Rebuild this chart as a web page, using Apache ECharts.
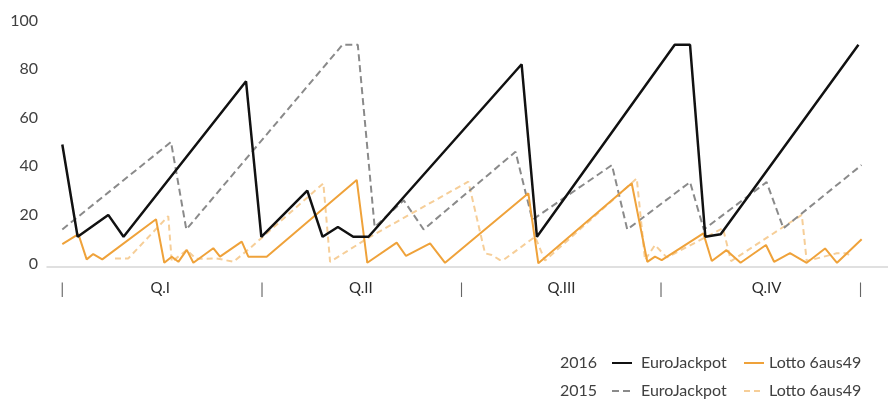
<!DOCTYPE html>
<html>
<head>
<meta charset="utf-8">
<script src="https://cdn.jsdelivr.net/npm/echarts@6/dist/echarts.min.js"></script>
<style>
  html, body { margin: 0; padding: 0; background: #ffffff; }
  #chart { width: 888px; height: 401px; }
</style>
</head>
<body>
<div id="chart"></div>
<script>
// x = week of the year (days / 7), y = jackpot value
const ej2016Weeks = [0, 1, 3, 4, 12, 13, 16, 17, 18, 19, 20, 30, 31, 40, 41, 42, 43, 52];
const ej2016Values = [49, 11, 20, 11, 75, 11, 30, 11, 15, 11, 11, 82, 11, 90, 90, 11, 12, 90];

const ej2015Weeks = [0, 7.1, 8.1, 18.3, 19.3, 20.4, 22.3, 23.6, 29.6, 30.7, 35.9, 36.9, 41, 41.9, 46, 47.1, 52.2];
const ej2015Values = [14, 50, 14, 90, 90, 15, 26, 14, 46, 18, 40.5, 14, 33.5, 14, 33.5, 14.5, 40.5];

const lotto2016Weeks = [0, 1.05, 1.59, 2.02, 2.61, 6.12, 6.66, 7.15, 7.58, 8.13, 8.56, 9.86, 10.30, 11.72, 12.15, 13.35, 19.23, 19.92, 21.84, 22.45, 24.02, 25.0, 30.44, 31.09, 37.19, 38.21, 38.71, 39.15, 41.87, 42.42, 43.38, 44.30, 45.96, 46.49, 47.53, 48.62, 49.82, 50.60, 52.21];
const lotto2016Values = [8, 12.1, 1.7, 3.9, 1.7, 18.2, 0.3, 2.8, 0.7, 5.6, 0.3, 6.3, 2.8, 9, 2.8, 2.8, 34.4, 0.3, 8.6, 3.1, 8.3, 0.3, 28.9, 0.1, 33, 0.7, 2.8, 1.4, 12.4, 1.0, 5.5, 0.3, 7.6, 0.7, 4.3, 0.3, 6.2, 0.3, 10];

const lotto2015Weeks = [3.44, 4.31, 6.92, 7.15, 8.13, 8.73, 10.08, 11.17, 12.26, 17.05, 17.49, 20.10, 26.52, 27.61, 28.05, 28.59, 28.80, 30.88, 31.53, 37.52, 38.06, 38.71, 39.48, 43.15, 43.68, 48.30, 48.62, 50.58, 51.23, 51.58];
const lotto2015Values = [2.1, 2.1, 19.5, 0.7, 5.6, 1.9, 2.1, 0.7, 6.3, 33, 0.7, 11, 33.7, 4.2, 3.5, 1.4, 1.4, 11, 1.2, 35, 1.4, 7.6, 2.5, 14.5, 1, 20, 1, 4.2, 4.2, 2.8];

const quarterBounds = [0, 13.04, 26.07, 39.11, 52.14];
const quarterLabelWeeks = [6.4, 19.5, 32.6, 46.0];
const quarterLabels = ['Q.I', 'Q.II', 'Q.III', 'Q.IV'];

const yearLabels = ['2016', '2015'];
const gameNames = ['EuroJackpot', 'Lotto 6aus49'];

function zip(xs, ys) { return xs.map((x, i) => [x, ys[i]]); }

const FONT = 'Lato, "Open Sans", sans-serif';

const chart = echarts.init(document.getElementById('chart'), null, { renderer: 'canvas' });

function legendFor(name, left, top, pad) {
  return {
    left: left, top: top, padding: 0,
    data: [name],
    itemWidth: 20, itemHeight: 12,
    selectedMode: false,
    itemStyle: { opacity: 0, borderWidth: 0 },
    formatter: n => n.replace(/ 20\d\d$/, ''),
    textStyle: { fontSize: 16, color: '#404040', fontFamily: FONT, padding: [0, 0, 0, pad] }
  };
}

const option = {
  animation: false,
  backgroundColor: '#ffffff',
  grid: { left: 47, right: 0, top: 20.5, bottom: 137.5, containLabel: false },
  xAxis: {
    type: 'value',
    min: -1, max: 53.93,
    offset: 3,
    axisLine: { show: true, onZero: false, lineStyle: { color: '#d6d6d6', width: 1.5 } },
    axisTick: { show: false },
    splitLine: { show: false },
    axisLabel: {
      customValues: quarterBounds.concat(quarterLabelWeeks),
      formatter: function (v) {
        for (let i = 0; i < quarterLabelWeeks.length; i++) {
          if (Math.abs(v - quarterLabelWeeks[i]) < 0.01) return '{q|' + quarterLabels[i] + '}';
        }
        return '{b||}';
      },
      margin: 14,
      rich: {
        q: { fontSize: 15, color: '#2b2b2b', fontFamily: FONT },
        b: { fontSize: 16, color: '#666666', fontFamily: FONT }
      }
    }
  },
  yAxis: {
    type: 'value',
    min: 0, max: 100, interval: 20,
    axisLine: { show: false },
    axisTick: { show: false },
    splitLine: { show: false },
    axisLabel: { color: '#404040', fontSize: 16, margin: 9, fontFamily: FONT }
  },
  legend: [
    legendFor(gameNames[0] + ' ' + yearLabels[0], 611, 355, 4),
    legendFor(gameNames[1] + ' ' + yearLabels[0], 743, 355, 0),
    legendFor(gameNames[0] + ' ' + yearLabels[1], 611, 383, 4),
    legendFor(gameNames[1] + ' ' + yearLabels[1], 743, 383, 0)
  ],
  graphic: [
    { type: 'text', left: 560, top: 355, style: { text: yearLabels[0], fontSize: 16, fill: '#404040', fontFamily: FONT } },
    { type: 'text', left: 560, top: 383, style: { text: yearLabels[1], fontSize: 16, fill: '#404040', fontFamily: FONT } }
  ],
  series: [
    {
      name: gameNames[1] + ' ' + yearLabels[1], type: 'line', symbol: 'none', z: 1,
      data: zip(lotto2015Weeks, lotto2015Values),
      lineStyle: { color: '#F6CE98', width: 2, type: [6, 4] }, itemStyle: { color: '#F6CE98' }
    },
    {
      name: gameNames[0] + ' ' + yearLabels[1], type: 'line', symbol: 'none', z: 2,
      data: zip(ej2015Weeks, ej2015Values),
      lineStyle: { color: '#8a8a8a', width: 2, type: [7, 4] }, itemStyle: { color: '#8a8a8a' }
    },
    {
      name: gameNames[1] + ' ' + yearLabels[0], type: 'line', symbol: 'none', z: 3,
      data: zip(lotto2016Weeks, lotto2016Values),
      lineStyle: { color: '#EFA23A', width: 2 }, itemStyle: { color: '#EFA23A' }
    },
    {
      name: gameNames[0] + ' ' + yearLabels[0], type: 'line', symbol: 'none', z: 4,
      data: zip(ej2016Weeks, ej2016Values),
      lineStyle: { color: '#111111', width: 2.5 }, itemStyle: { color: '#111111' }
    }
  ]
};

chart.setOption(option);
</script>
</body>
</html>
